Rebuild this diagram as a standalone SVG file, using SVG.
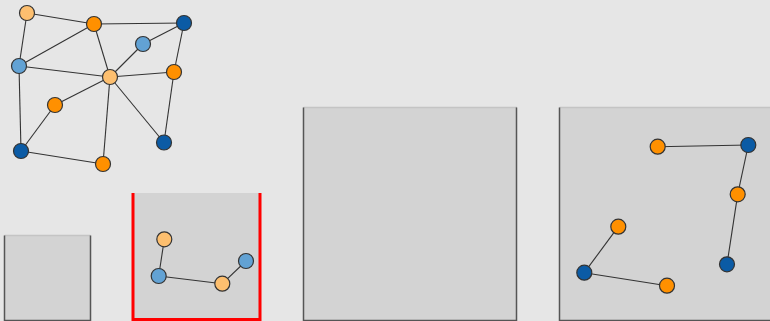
<svg xmlns="http://www.w3.org/2000/svg" width="770" height="321" viewBox="0 0 770 321">
<style>
.bg{fill:#e6e6e6}
.box{fill:#d3d3d3}
.top{stroke:#c4c4c4;stroke-width:1.5}
.side{stroke:#555;stroke-width:1.5;fill:none}
.sel{fill:none;stroke:#ff0000;stroke-width:3}
.e{stroke:#333;stroke-width:1.1}
.n{stroke:#333;stroke-width:1.2}
.lo{fill:#fdbf6f}.o{fill:#ff9000}.lb{fill:#62a2d4}.db{fill:#0b5ba5}
</style>
<rect class="bg" width="770" height="321"/>
<g id="box1"><rect class="box" x="4.5" y="235.5" width="86" height="86"/><line class="top" x1="4.5" y1="235.5" x2="90.5" y2="235.5"/><polyline class="side" points="4.5,235.5 4.5,320.5 90.5,320.5 90.5,235.5"/></g>
<g id="box2"><rect class="box" x="133" y="193" width="127" height="127"/><polyline class="sel" points="133,193 133,319.5 260,319.5 260,193"/></g>
<g id="box3"><rect class="box" x="303.5" y="107.5" width="213.5" height="214"/><line class="top" x1="303.5" y1="107.5" x2="517" y2="107.5"/><polyline class="side" points="303.5,107.5 303.5,320.5 516.5,320.5 516.5,107.5"/></g>
<g id="box4"><rect class="box" x="559.5" y="107.5" width="214" height="214"/><line class="top" x1="559.5" y1="107.5" x2="772" y2="107.5"/><polyline class="side" points="559.5,107.5 559.5,320.5 772,320.5"/></g>
<g id="connectors">
<line class="e" x1="27" y1="13" x2="94" y2="24"/>
<line class="e" x1="27" y1="13" x2="19" y2="66"/>
<line class="e" x1="94" y1="24" x2="184" y2="23"/>
<line class="e" x1="94" y1="24" x2="19" y2="66"/>
<line class="e" x1="94" y1="24" x2="110" y2="77"/>
<line class="e" x1="184" y1="23" x2="143" y2="44"/>
<line class="e" x1="184" y1="23" x2="174" y2="72"/>
<line class="e" x1="143" y1="44" x2="110" y2="77"/>
<line class="e" x1="19" y1="66" x2="110" y2="77"/>
<line class="e" x1="19" y1="66" x2="21" y2="151"/>
<line class="e" x1="110" y1="77" x2="174" y2="72"/>
<line class="e" x1="110" y1="77" x2="55" y2="105"/>
<line class="e" x1="110" y1="77" x2="164" y2="142.5"/>
<line class="e" x1="110" y1="77" x2="103" y2="164"/>
<line class="e" x1="55" y1="105" x2="21" y2="151"/>
<line class="e" x1="21" y1="151" x2="103" y2="164"/>
<line class="e" x1="174" y1="72" x2="164" y2="142.5"/>
<line class="e" x1="164.3" y1="239.3" x2="158.7" y2="276"/>
<line class="e" x1="158.7" y1="276" x2="222.3" y2="283.7"/>
<line class="e" x1="222.3" y1="283.7" x2="246" y2="261"/>
<line class="e" x1="657.7" y1="146.7" x2="748.3" y2="145"/>
<line class="e" x1="748.3" y1="145" x2="737.7" y2="194.3"/>
<line class="e" x1="737.7" y1="194.3" x2="727" y2="264.3"/>
<line class="e" x1="618.3" y1="226.7" x2="584.3" y2="272.7"/>
<line class="e" x1="584.3" y1="272.7" x2="667" y2="285.7"/>
</g>
<g id="n1"><circle class="n lo" cx="27" cy="13" r="7.5"/></g>
<g id="n2"><circle class="n o" cx="94" cy="24" r="7.5"/></g>
<g id="n3"><circle class="n db" cx="184" cy="23" r="7.5"/></g>
<g id="n4"><circle class="n lb" cx="143" cy="44" r="7.5"/></g>
<g id="n5"><circle class="n lb" cx="19" cy="66" r="7.5"/></g>
<g id="n6"><circle class="n lo" cx="110" cy="77" r="7.5"/></g>
<g id="n7"><circle class="n o" cx="174" cy="72" r="7.5"/></g>
<g id="n8"><circle class="n o" cx="55" cy="105" r="7.5"/></g>
<g id="n9"><circle class="n db" cx="21" cy="151" r="7.5"/></g>
<g id="n10"><circle class="n db" cx="164" cy="142.5" r="7.5"/></g>
<g id="n11"><circle class="n o" cx="103" cy="164" r="7.5"/></g>
<g id="m1"><circle class="n lo" cx="164.3" cy="239.3" r="7.5"/></g>
<g id="m2"><circle class="n lb" cx="158.7" cy="276" r="7.5"/></g>
<g id="m3"><circle class="n lo" cx="222.3" cy="283.7" r="7.5"/></g>
<g id="m4"><circle class="n lb" cx="246" cy="261" r="7.5"/></g>
<g id="p1"><circle class="n o" cx="657.7" cy="146.7" r="7.5"/></g>
<g id="p2"><circle class="n db" cx="748.3" cy="145" r="7.5"/></g>
<g id="p3"><circle class="n o" cx="737.7" cy="194.3" r="7.5"/></g>
<g id="p4"><circle class="n db" cx="727" cy="264.3" r="7.5"/></g>
<g id="p5"><circle class="n o" cx="618.3" cy="226.7" r="7.5"/></g>
<g id="p6"><circle class="n db" cx="584.3" cy="272.7" r="7.5"/></g>
<g id="p7"><circle class="n o" cx="667" cy="285.7" r="7.5"/></g>
</svg>
